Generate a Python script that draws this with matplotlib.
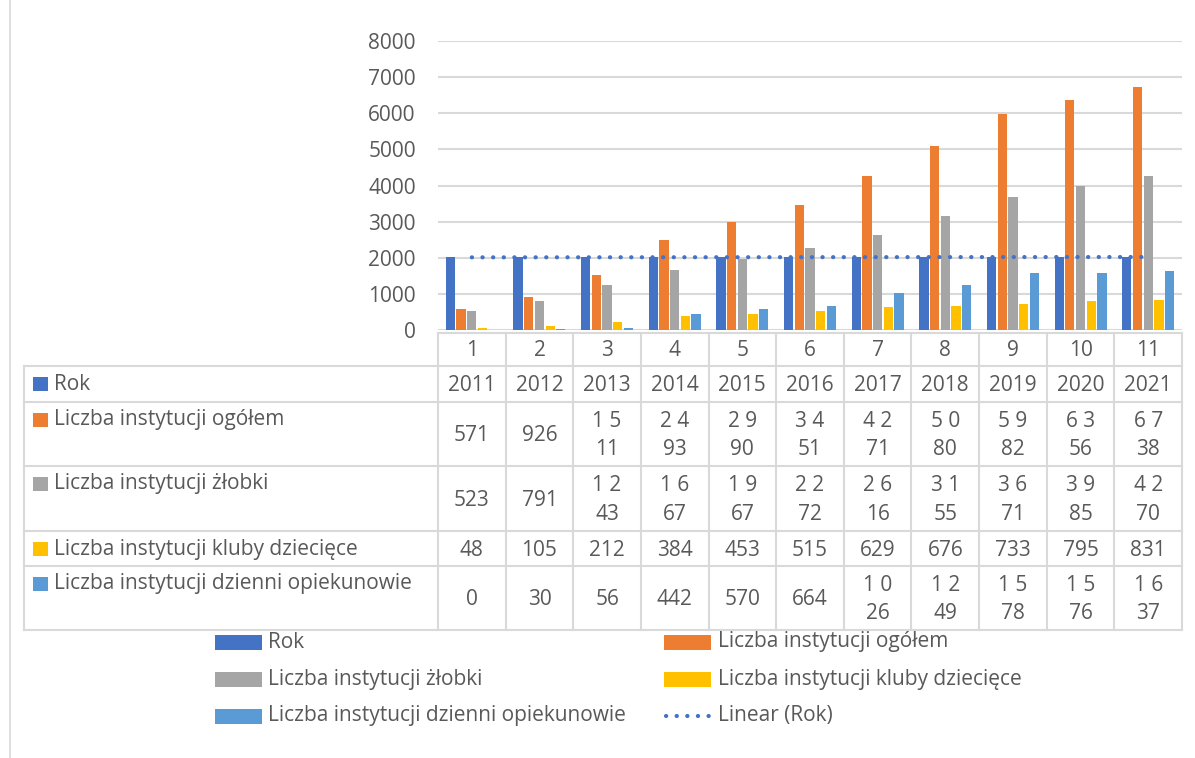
import numpy as np
import matplotlib
matplotlib.use("Agg")
import matplotlib.pyplot as plt
from matplotlib.patches import Rectangle

# ---------------- data ----------------
categories = [1, 2, 3, 4, 5, 6, 7, 8, 9, 10, 11]
rok = [2011, 2012, 2013, 2014, 2015, 2016, 2017, 2018, 2019, 2020, 2021]
ogolem = [571, 926, 1511, 2493, 2990, 3451, 4271, 5080, 5982, 6356, 6738]
zlobki = [523, 791, 1243, 1667, 1967, 2272, 2616, 3155, 3671, 3985, 4270]
kluby = [48, 105, 212, 384, 453, 515, 629, 676, 733, 795, 831]
dzienni = [0, 30, 56, 442, 570, 664, 1026, 1249, 1578, 1576, 1637]

series_names = ["Rok", "Liczba instytucji ogółem", "Liczba instytucji żłobki",
                "Liczba instytucji kluby dziecięce", "Liczba instytucji dzienni opiekunowie"]
series_values = [rok, ogolem, zlobki, kluby, dzienni]
colors = ["#4472C4", "#ED7D31", "#A5A5A5", "#FFC000", "#5B9BD5"]
trend_name = "Linear (Rok)"
yticks = [0, 1000, 2000, 3000, 4000, 5000, 6000, 7000, 8000]

FONT = "Open Sans"
FS = 15
TXT = "#595959"
GRID = "#D9D9D9"
DOTS = (0, (0.05, 2.5))
DLW = 3.0

W, H = 1195, 758
fig = plt.figure(figsize=(W / 100, H / 100), dpi=100)

# overlay axes in pixel coordinates (for table & legend layout)
ov = fig.add_axes([0, 0, 1, 1], zorder=0)
ov.set_xlim(0, W)
ov.set_ylim(H, 0)
ov.axis("off")

# plot area geometry (pixels)
PL, PR, PT, PB = 438, 1182, 41, 330
ax = fig.add_axes([PL / W, 1 - PB / H, (PR - PL) / W, (PB - PT) / H], zorder=1)
ax.patch.set_alpha(0)

x = np.array(categories, dtype=float)
bw = 0.137
step = 0.158
for k, (vals, c) in enumerate(zip(series_values, colors)):
    ax.bar(x + (k - 2) * step, vals, width=bw, color=c, zorder=3)

# linear trendline of Rok
coef = np.polyfit(x, rok, 1)
ax.plot(x, np.polyval(coef, x), linestyle=DOTS, color="#4472C4",
        lw=DLW, dash_capstyle="round", zorder=4)

ax.set_xlim(0.5, len(categories) + 0.5)
ax.set_ylim(0, 8000)
ax.set_yticks(yticks)
ax.yaxis.grid(True, color=GRID, lw=1.5, zorder=0)
ax.set_axisbelow(True)
ax.tick_params(axis="y", length=0, pad=16, labelsize=FS, labelcolor=TXT)
for lab in ax.get_yticklabels():
    lab.set_fontfamily(FONT)
ax.set_xticks([])
for s in ax.spines.values():
    s.set_visible(False)

# ---------------- data table ----------------
ncat = len(categories)
cw = (PR - PL) / ncat
TL = 24
axis_y = 333
row_edges = [366, 402, 466, 531, 566, 630]
lw_t = 1.5

ov.plot([PL, PR], [axis_y, axis_y], color=GRID, lw=lw_t)
for ye in row_edges:
    ov.plot([TL, PR], [ye, ye], color=GRID, lw=lw_t)
ov.plot([TL, TL], [row_edges[0], row_edges[-1]], color=GRID, lw=lw_t)
for i in range(ncat + 1):
    xe = PL + i * cw
    ov.plot([xe, xe], [axis_y, row_edges[-1]], color=GRID, lw=lw_t)

# figure left border
ov.plot([10, 10], [0, H], color=GRID, lw=1.2)

# header row: category numbers
for i, c in enumerate(categories):
    ov.text(PL + (i + 0.5) * cw, (axis_y + row_edges[0]) / 2 + 1, str(c), ha="center",
            va="center", fontsize=FS, color=TXT, family=FONT)


def fmt(v, wrap):
    s = str(v)
    if wrap and len(s) >= 4:
        return f"{s[0]} {s[1]}\n{s[2:]}"
    return s


for r, (name, vals, col) in enumerate(zip(series_names, series_values, colors)):
    top, bot = row_edges[r], row_edges[r + 1]
    # key square + label at top of row
    ov.add_patch(Rectangle((33, top + 11), 15, 14, color=col, lw=0))
    ov.text(54, top + 18, name, ha="left", va="center", fontsize=FS, color=TXT, family=FONT)
    for i, v in enumerate(vals):
        ov.text(PL + (i + 0.5) * cw, (top + bot) / 2 + 1.5, fmt(v, r > 0), ha="center",
                va="center", fontsize=FS, color=TXT, family=FONT, linespacing=1.45,
                multialignment="center")

# ---------------- legend ----------------
leg_rows = [642, 679, 716]
leg_cols = [(215, 268), (664, 718)]
entries = list(zip(series_names, colors)) + [(trend_name, None)]
for j, (name, col) in enumerate(entries):
    rr, cc = j // 2, j % 2
    px, tx = leg_cols[cc]
    yy = leg_rows[rr]
    if col is not None:
        ov.add_patch(Rectangle((px, yy - 7), 47, 15, color=col, lw=0))
    else:
        ov.plot([px + 2, px + 45], [yy, yy], linestyle=DOTS, color="#4472C4",
                lw=DLW, dash_capstyle="round")
    ov.text(tx, yy, name, ha="left", va="center", fontsize=FS, color=TXT, family=FONT)

fig.savefig("out.png", dpi=100)
